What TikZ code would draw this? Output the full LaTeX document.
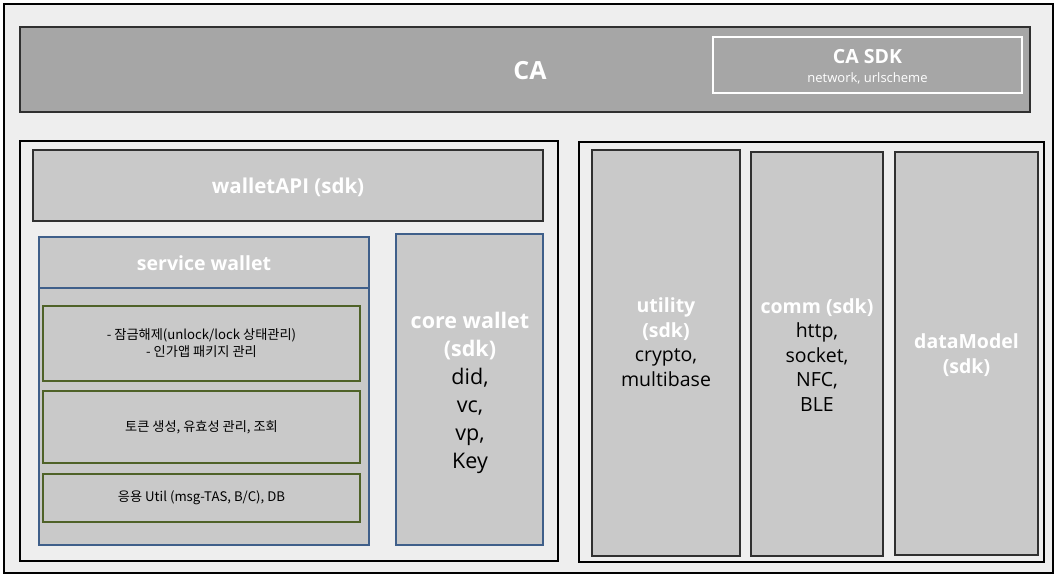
\documentclass[tikz,border=0pt]{standalone}
\usepackage{fontspec}
\setmainfont{Open Sans}
\newfontfamily\kr{Noto Sans CJK KR}
\usetikzlibrary{fit}
\definecolor{bgpanel}{HTML}{EEEEEE}
\definecolor{caband}{HTML}{A6A6A6}
\definecolor{boxfill}{HTML}{C9C9C9}
\definecolor{blueline}{HTML}{3F5F8A}
\definecolor{greenline}{HTML}{4F6228}
\definecolor{darkline}{HTML}{303030}
\newcommand{\wb}[1]{\textcolor{white}{\bfseries #1}}
\tikzset{
  region/.style={draw=black, fill=bgpanel, line width=1.2pt, inner sep=0pt},
  band/.style={draw=darkline, fill=caband, line width=1.2pt, inner sep=0pt},
  sdkbox/.style={draw=white, fill=caband, line width=1.1pt, inner sep=0pt},
  graybox/.style={draw=darkline, fill=boxfill, line width=1.2pt, inner sep=0pt},
  bluebox/.style={draw=blueline, fill=boxfill, line width=1.1pt, inner sep=0pt},
  greenbox/.style={draw=greenline, fill=boxfill, line width=1.1pt, inner sep=0pt},
  wtitle/.style={text=white, font=\bfseries\fontsize{19.5}{24}\selectfont, align=center, inner sep=0pt},
  coltext/.style={text=black, align=center, inner sep=0pt, font=\fontsize{19.5}{24.5}\selectfont},
  krtext/.style={text=black, font=\kr\fontsize{13.2}{17}\selectfont, align=center, inner sep=0pt},
}
\begin{document}
\begin{tikzpicture}[x=1pt,y=-1pt]
\useasboundingbox (0,0) rectangle (1060,580);
% outer frame
\node[region, fit={(4,4) (1053,573)}] (outer) {};
% CA band
\node[band, fit={(20,27) (1030,112)}] (ca) {};
\node[text=white, font=\bfseries\fontsize{25}{30}\selectfont, inner sep=0pt] (catext) at (530,71) {CA};
\node[sdkbox, fit={(713,37) (1022,93)}] (casdk) {};
\node[wtitle] (casdktitle) at (867.5,57) {CA SDK};
\node[text=white, font=\fontsize{13}{16}\selectfont, inner sep=0pt] (casdksub) at (867.5,78) {network, urlscheme};
% left panel
\node[region, fit={(20,141) (558,561)}] (left) {};
\node[graybox, fit={(33,150) (543,221)}] (walletapi) {};
\node[wtitle, font=\bfseries\fontsize{20.5}{24}\selectfont] (walletapitext) at (288,187) {walletAPI (sdk)};
% service wallet
\node[bluebox, fit={(39,237) (369,545)}] (service) {};
\coordinate (sepl) at (39,288);
\coordinate (sepr) at (369,288);
\draw[blueline, line width=1.1pt] (sepl) -- (sepr);
\node[wtitle] (servicetext) at (204,263) {service wallet};
\node[greenbox, fit={(43,306) (360,381)}] (g1) {};
\node[krtext] (g1text) at (g1.center) {- 잠금해제(unlock/lock 상태관리)\\- 인가앱 패키지 관리};
\node[greenbox, fit={(43,391) (360,463)}] (g2) {};
\node[krtext] (g2text) at (g2.center) {토큰 생성, 유효성 관리, 조회};
\node[greenbox, fit={(43,474) (360,522)}] (g3) {};
\node[krtext] (g3text) at (g3.center) {응용 Util (msg-TAS, B/C), DB};
% core wallet
\node[bluebox, fit={(396,234) (543,545)}] (core) {};
\node[coltext, font=\fontsize{21.5}{28}\selectfont] (coretext) at (470,393) {\wb{core wallet}\\\wb{(sdk)}\\did,\\vc,\\vp,\\Key};
% right panel
\node[region, fit={(579,142) (1044,562)}] (right) {};
\node[graybox, fit={(592,150) (740,556)}] (utility) {};
\node[coltext] (utilitytext) at (666,342) {\wb{utility}\\\wb{(sdk)}\\crypto,\\multibase};
\node[graybox, fit={(751,152) (883,556)}] (comm) {};
\node[coltext] (commtext) at (817,355) {\wb{comm (sdk)}\\http,\\socket,\\NFC,\\BLE};
\node[graybox, fit={(895,152) (1038,555)}] (datamodel) {};
\node[wtitle, font=\bfseries\fontsize{19.5}{25}\selectfont] (datamodeltext) at (966.5,355) {dataModel\\(sdk)};
\end{tikzpicture}
\end{document}
